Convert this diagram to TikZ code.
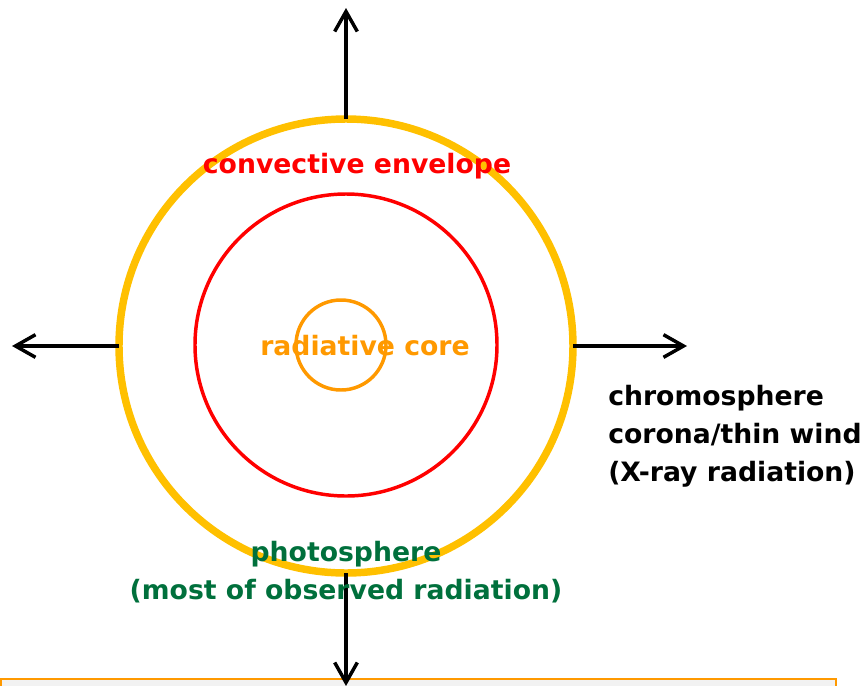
\documentclass[tikz,border=0pt]{standalone}
\usepackage{fontspec}
\setmainfont{DejaVu Sans}
\usetikzlibrary{arrows.meta,positioning}
\definecolor{sunyellow}{RGB}{255,192,0}
\definecolor{coreorange}{RGB}{255,153,0}
\definecolor{photogreen}{RGB}{0,112,60}
\definecolor{boxgray}{RGB}{242,242,242}

\begin{document}
\begin{tikzpicture}[
x=0.75pt, y=-0.75pt,
font=\fontsize{20}{28.5}\selectfont\bfseries,
shell/.style={circle, inner sep=0pt, outer sep=0pt},
tag/.style={inner sep=0pt, align=center},
flux/.style={-{Straight Barb[length=15pt,width=17pt,line width=2.6pt]}, draw=black, line width=2.6pt}
]
\useasboundingbox (0,0) rectangle (865,686);

% bottom band
\node[draw=coreorange, fill=boxgray, line width=1.5pt, inner sep=0pt, minimum width=835*0.75pt, minimum height=30pt, anchor=north west] (band) at (0,678) {};

\node[shell, draw=sunyellow, line width=5.6pt, minimum size=340.5pt] (phot) at (346,346) {};
\node[shell, draw=red, line width=2.6pt, minimum size=226.5pt] (env) at (346,345) {};
\node[shell, draw=coreorange, line width=2.6pt, minimum size=67.5pt] (core) at (341,345) {};

\coordinate (up) at (346,8);
\coordinate (left) at (12,346);
\coordinate (right) at (687,346);
\coordinate (down) at (346,686);

\draw[flux] (phot.north) -- (up);
\draw[flux] (phot.west) -- (left);
\draw[flux] (phot.east) -- (right);
\draw[flux] (phot.south) -- (down);

\node[tag, text=red] (envtxt) at (357,166) {convective envelope};
\node[tag, text=coreorange] (coretxt) at (365,346) {radiative core};
\node[tag, text=photogreen] (phottxt) at (346,572) {photosphere\\(most of observed radiation)};
\node[tag, align=left, anchor=west] (windtxt) at (608,436) {chromosphere\\corona/thin wind\\(X-ray radiation)};
\end{tikzpicture}
\end{document}
